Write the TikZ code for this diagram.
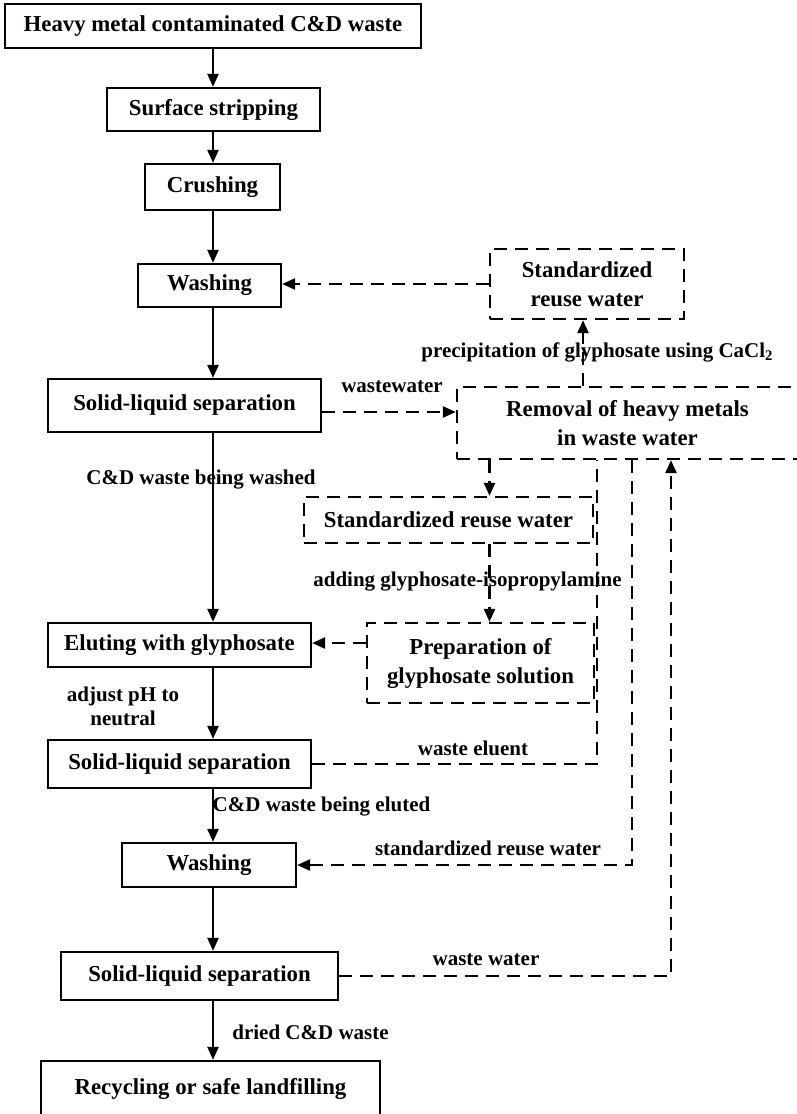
\documentclass[tikz,border=0pt]{standalone}
\usepackage{fontspec}
\setmainfont{Liberation Serif}
\usetikzlibrary{arrows.meta}

\begin{document}
\begin{tikzpicture}[
            x=0.5pt, y=-0.5pt,
            every node/.style={font=\fontsize{11.4}{14.5}\selectfont\bfseries},
            box/.style={draw, rectangle, line width=1.15pt, align=center, inner sep=0pt},
            dbox/.style={box, dash pattern=on 6.5pt off 4pt},
            lbl/.style={font=\fontsize{10.5}{12}\selectfont\bfseries, inner sep=0pt, align=center},
            arrow/.style={-{Triangle[length=6.5pt,width=5.5pt]}, line width=1.2pt},
            dline/.style={line width=1.2pt, dash pattern=on 6.5pt off 4pt},
            darrow/.style={arrow, dash pattern=on 6.5pt off 4pt}
        ]
            \useasboundingbox (0,0) rectangle (797,1114);

% Main treatment line
            \node (heavy) [box, minimum width=208pt, minimum height=22pt] at (213,26) {Heavy metal contaminated C\&D waste};
            \node (strip) [box, minimum width=106.5pt, minimum height=21.5pt] at (213.5,109.5) {Surface stripping};
            \node (crush) [box, minimum width=67.5pt, minimum height=23pt] at (212.5,187) {Crushing};
            \node (wash1) [box, minimum width=71.5pt, minimum height=21.5pt] at (209.5,285.5) {Washing};
            \node (sep1) [box, minimum width=136.5pt, minimum height=26.5pt] at (184.5,405.5) {Solid-liquid separation};
            \node (elute) [box, minimum width=131.5pt, minimum height=22pt] at (179.5,645) {Eluting with glyphosate};
            \node (sep2) [box, minimum width=131.5pt, minimum height=24pt] at (179.5,764) {Solid-liquid separation};
            \node (wash2) [box, minimum width=87pt, minimum height=22pt] at (209,865) {Washing};
            \node (sep3) [box, minimum width=138.5pt, minimum height=24pt] at (199.5,976) {Solid-liquid separation};
            \node (final) [box, minimum width=169.5pt, minimum height=28pt] at (210.5,1089) {Recycling or safe landfilling};

% Water treatment loop
            \node (reuse1) [dbox, minimum width=97pt, minimum height=35pt] at (587,284) {Standardized\\reuse water};
            \node (removal) [dbox, minimum width=170.5pt, minimum height=36pt] at (627.5,423) {Removal of heavy metals\\in waste water};
            \node (reuse2) [dbox, minimum width=144.5pt, minimum height=23pt] at (448.5,520) {Standardized reuse water};
            \node (prep) [dbox, minimum width=113.5pt, minimum height=40pt] at (480.5,663) {Preparation of\\glyphosate solution};

% Columns for the vertical connectors
            \coordinate (spine) at (213,0);
            \coordinate (precipx) at (583,0);
            \coordinate (dropx) at (489.5,0);
            \coordinate (eluentx) at (597,0);
            \coordinate (reusex) at (632,0);
            \coordinate (wastex) at (671,0);

% Solid arrows down the main line
            \draw [arrow] (spine |- heavy.south) -- (spine |- strip.north);
            \draw [arrow] (spine |- strip.south) -- (spine |- crush.north);
            \draw [arrow] (spine |- crush.south) -- (spine |- wash1.north);
            \draw [arrow] (spine |- wash1.south) -- (spine |- sep1.north);
            \draw [arrow] (spine |- sep1.south) -- (spine |- elute.north);
            \draw [arrow] (spine |- elute.south) -- (spine |- sep2.north);
            \draw [arrow] (spine |- sep2.south) -- (spine |- wash2.north);
            \draw [arrow] (spine |- wash2.south) -- (spine |- sep3.north);
            \draw [arrow] (spine |- sep3.south) -- (spine |- final.north);

% Dashed water flows
            \draw [darrow] ([yshift=-3.25pt]sep1.east) -- ([yshift=-3.25pt]sep1.east -| removal.west);
            \draw [darrow] (precipx |- removal.north) -- (precipx |- reuse1.south);
            \draw [darrow] (reuse1.west) -- (reuse1.west -| wash1.east);
            \draw [darrow] (dropx |- removal.south) -- (dropx |- reuse2.north);
            \draw [darrow] (dropx |- reuse2.south) -- (dropx |- prep.north);
            \draw [darrow] ([yshift=10pt]prep.west) -- ([yshift=10pt]prep.west -| elute.east);
            \draw [dline] (sep2.east) -| (eluentx |- removal.south);
            \draw [darrow] (reusex |- removal.south) |- (wash2.east);
            \draw [darrow] (sep3.east) -| (wastex |- removal.south);

% Labels
            \node (lwashed) [lbl] at (201,480) {C\&D waste being washed};
            \node (lph) [lbl] at (123,706) {adjust pH to\\neutral};
            \node (leluted) [lbl] at (321.5,807) {C\&D waste being eluted};
            \node (ldried) [lbl] at (310.5,1032) {dried C\&D waste};
            \node (lprecip) [lbl] at (597.5,352) {precipitation of glyphosate using CaCl\textsubscript{2}};
            \node (lwastewater) [lbl] at (392,387) {wastewater};
            \node (ladding) [lbl] at (467.5,582) {adding glyphosate-isopropylamine};
            \node (leluent) [lbl] at (473,748) {waste eluent};
            \node (lreuse) [lbl] at (488,848) {standardized reuse water};
            \node (lwaste) [lbl] at (486,960) {waste water};

        \end{tikzpicture}
\end{document}
